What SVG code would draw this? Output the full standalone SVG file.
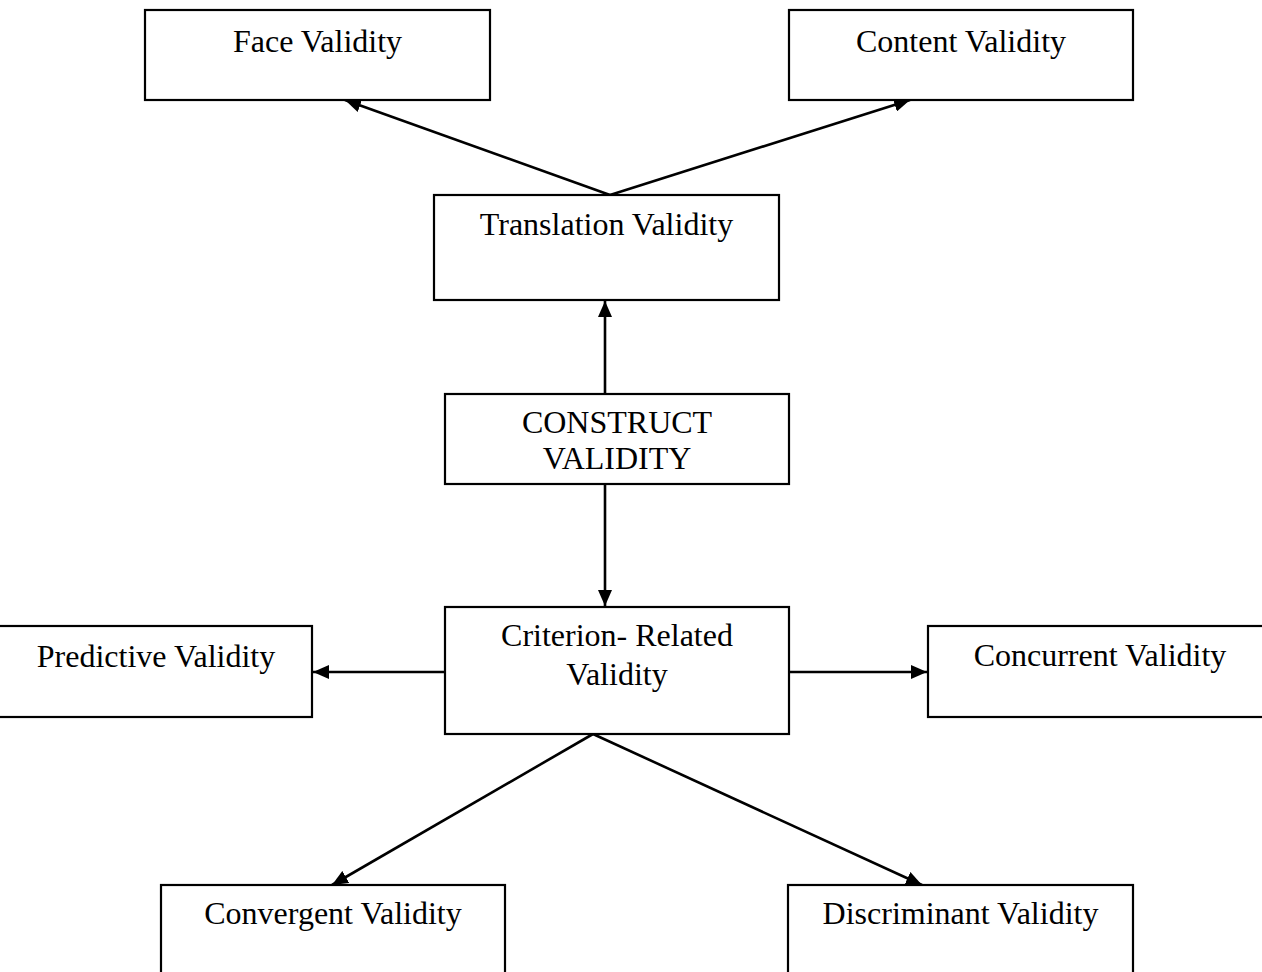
<svg xmlns="http://www.w3.org/2000/svg" width="1262" height="972" viewBox="0 0 1262 972">
  <style>
    .box { fill: #ffffff; stroke: #000000; stroke-width: 2.2; }
    .lbl { font-family: "Liberation Serif", "Times New Roman", serif; font-size: 32px; fill: #000000; text-anchor: middle; }
    .edge { stroke: #000000; stroke-width: 2.6; fill: none; marker-end: url(#arrow); }
  </style>
  <defs>
    <marker id="arrow" viewBox="0 0 16 14" refX="16" refY="7" markerUnits="userSpaceOnUse" markerWidth="16" markerHeight="14" orient="auto">
      <path d="M0,0 L16,7 L0,14 Z" fill="#000000"/>
    </marker>
  </defs>
  <rect width="1262" height="972" fill="#ffffff"/>

  <g id="connectors">
    <line class="edge" x1="610" y1="195" x2="345" y2="100"/>
    <line class="edge" x1="610" y1="195" x2="910" y2="100"/>
    <line class="edge" x1="605" y1="394" x2="605" y2="301"/>
    <line class="edge" x1="605" y1="484" x2="605" y2="606"/>
    <line class="edge" x1="445" y1="672" x2="313" y2="672"/>
    <line class="edge" x1="789" y1="672" x2="927" y2="672"/>
    <line class="edge" x1="593" y1="734" x2="332" y2="885"/>
    <line class="edge" x1="593" y1="734" x2="922" y2="885"/>
  </g>

  <g id="face-validity">
    <rect class="box" x="145" y="10" width="345" height="90"/>
    <text class="lbl" x="317.5" y="52">Face Validity</text>
  </g>
  <g id="content-validity">
    <rect class="box" x="789" y="10" width="344" height="90"/>
    <text class="lbl" x="961" y="52">Content Validity</text>
  </g>
  <g id="translation-validity">
    <rect class="box" x="434" y="195" width="345" height="105"/>
    <text class="lbl" x="606.5" y="235">Translation Validity</text>
  </g>
  <g id="construct-validity">
    <rect class="box" x="445" y="394" width="344" height="90"/>
    <text class="lbl" x="617" y="433">CONSTRUCT</text>
    <text class="lbl" x="617" y="469">VALIDITY</text>
  </g>
  <g id="criterion-related-validity">
    <rect class="box" x="445" y="607" width="344" height="127"/>
    <text class="lbl" x="617" y="646">Criterion- Related</text>
    <text class="lbl" x="617" y="685">Validity</text>
  </g>
  <g id="predictive-validity">
    <rect class="box" x="-2" y="626" width="314" height="91"/>
    <text class="lbl" x="156" y="667">Predictive Validity</text>
  </g>
  <g id="concurrent-validity">
    <rect class="box" x="928" y="626" width="344" height="91"/>
    <text class="lbl" x="1100" y="666">Concurrent Validity</text>
  </g>
  <g id="convergent-validity">
    <rect class="box" x="161" y="885" width="344" height="100"/>
    <text class="lbl" x="333" y="924">Convergent Validity</text>
  </g>
  <g id="discriminant-validity">
    <rect class="box" x="788" y="885" width="345" height="100"/>
    <text class="lbl" x="960.5" y="924">Discriminant Validity</text>
  </g>
</svg>
